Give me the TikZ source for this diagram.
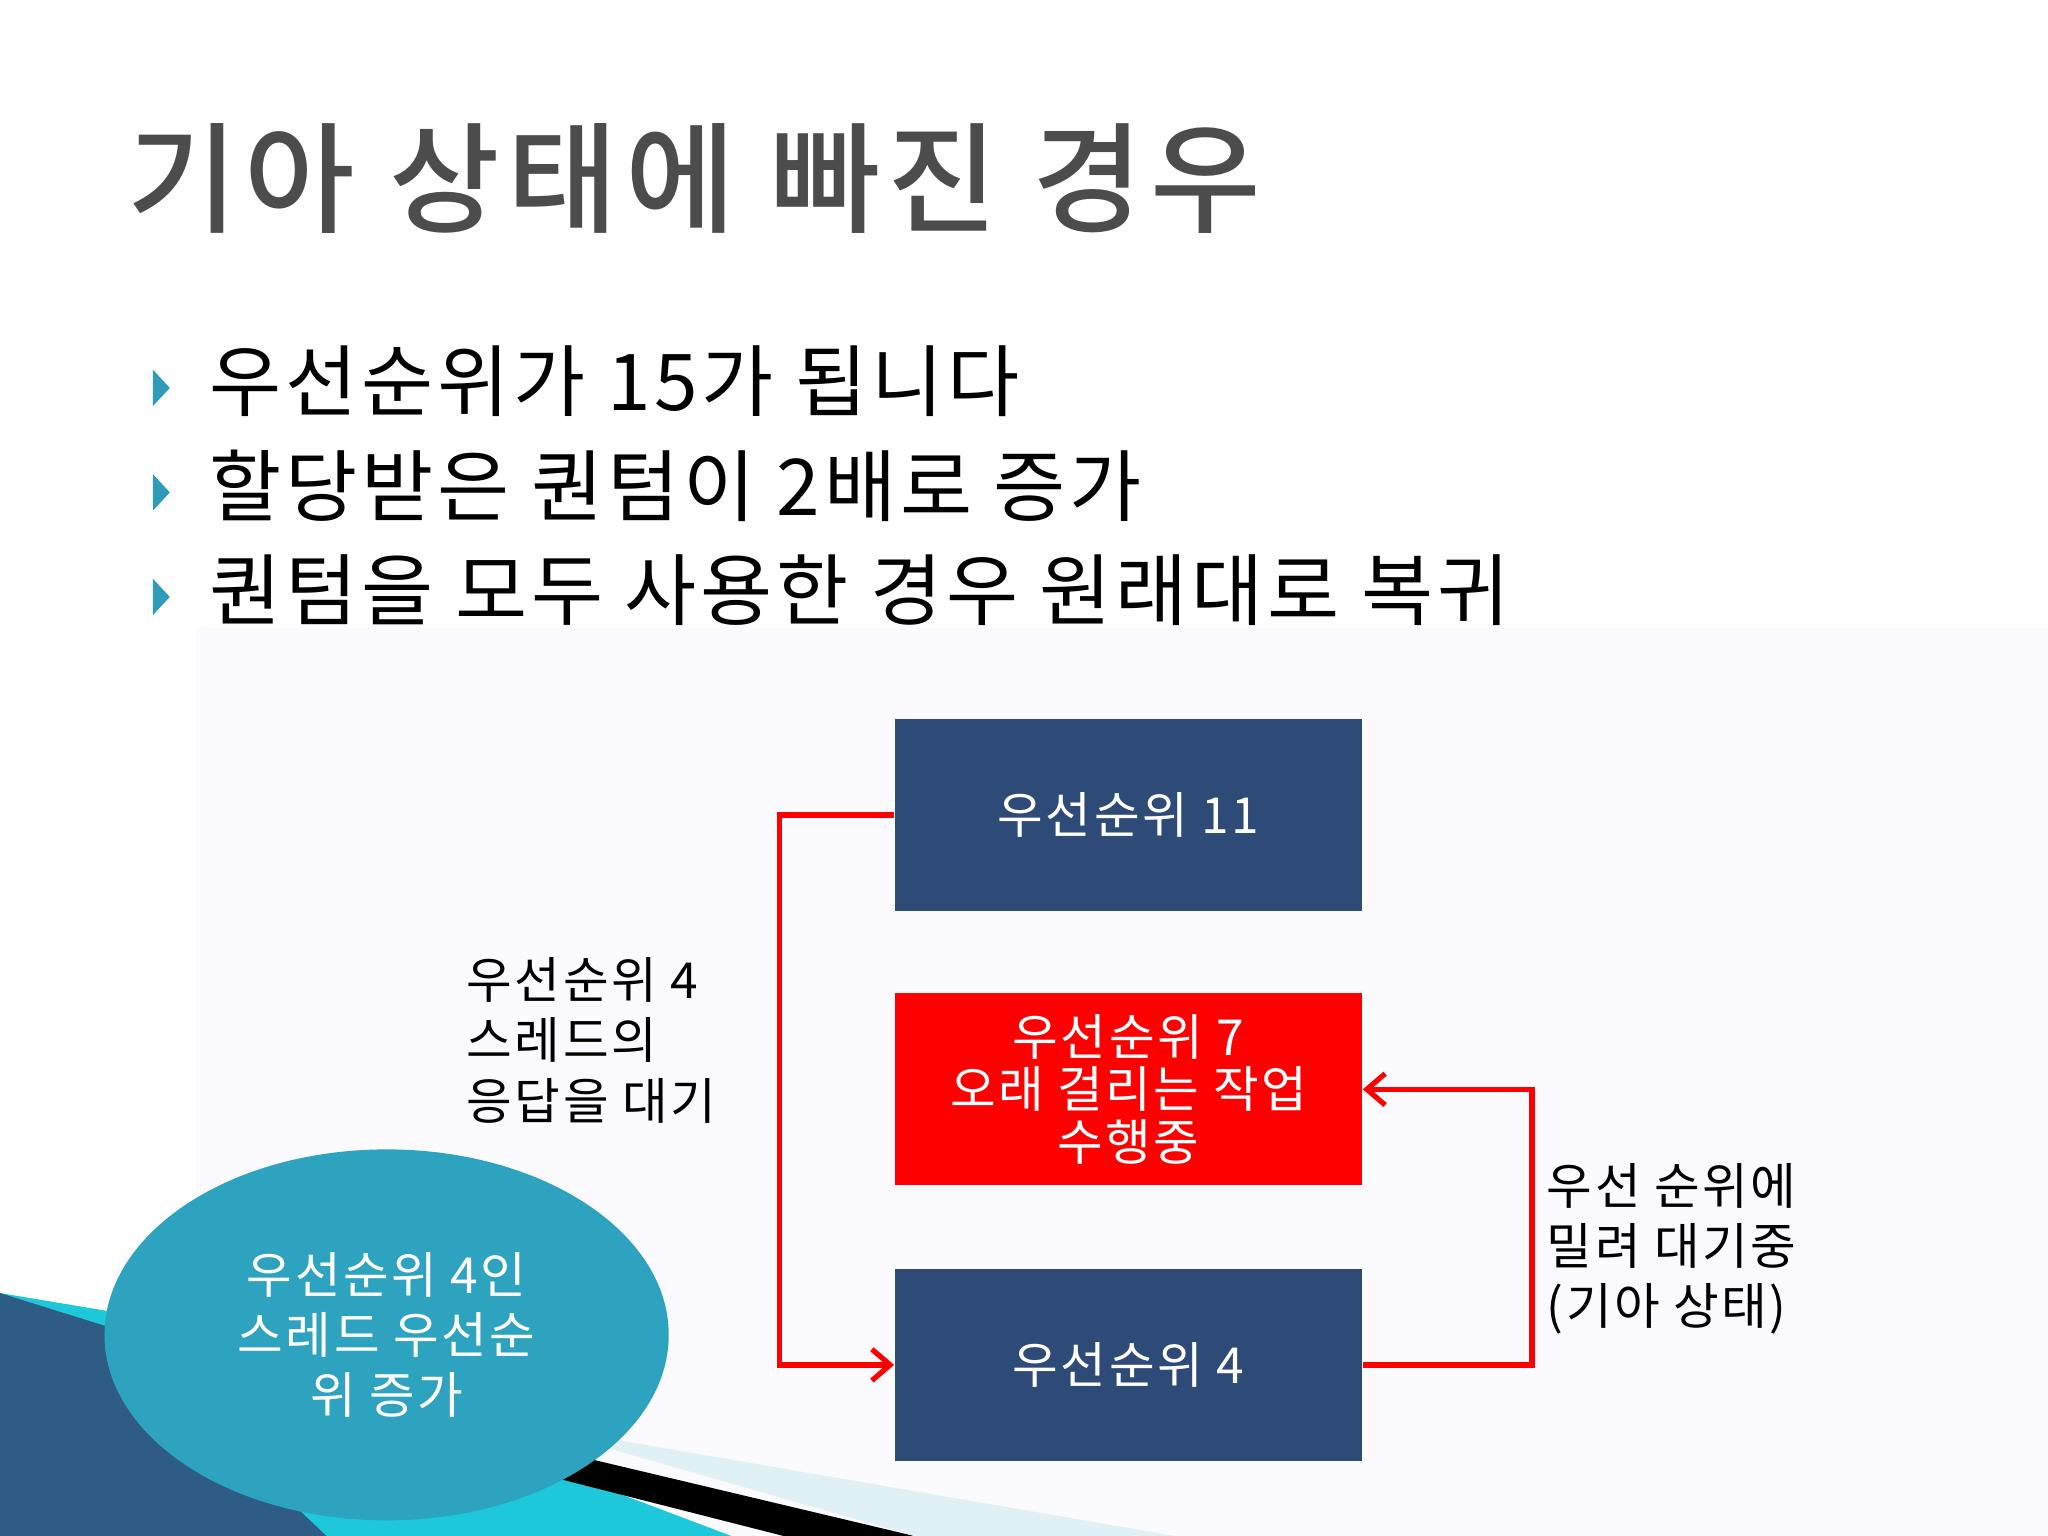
\documentclass[tikz,border=0pt]{standalone}
\usepackage{fontspec}
\setmainfont{Noto Sans CJK KR}
\newfontfamily\widefont[LetterSpace=5]{Noto Sans CJK KR}
\newfontfamily\titlefont[LetterSpace=6]{Noto Sans CJK KR Medium}
\usetikzlibrary{arrows.meta,shapes.geometric}
\definecolor{navy}{HTML}{2E4A76}
\definecolor{teal}{HTML}{2EA3C0}
\definecolor{bul}{HTML}{2E9CB8}
\tikzset{
 box/.style={draw=none,minimum width=358*0.5pt,minimum height=147*0.5pt,inner sep=0pt,align=center,text=white,font=\widefont\fontsize{19}{22}\selectfont},
 lbl/.style={align=left,anchor=north west,font=\widefont\fontsize{19}{23}\selectfont,inner sep=0pt},
 bl/.style={anchor=west,font=\widefont\fontsize{30}{34}\selectfont,inner sep=0pt},
 conn/.style={red,line width=2pt,-{Straight Barb[length=7pt,width=12pt,line width=2pt]}}
}
\begin{document}
\begin{tikzpicture}[x=0.5pt,y=-0.5pt]
\useasboundingbox (0,0) rectangle (1568,1176);
\fill[white] (0,0) rectangle (1568,1176);
% decorative background
\fill[blue!1.5] (150,480) rectangle (1568,1176);
\fill[teal!60!cyan] (0,990) -- (120,1010) -- (560,1176) -- (0,1176) -- cycle;
\fill[navy!80!teal] (0,990) -- (80,1015) -- (250,1176) -- (0,1176) -- cycle;
\fill[black] (380,1100) -- (700,1176) -- (600,1176) -- (380,1120) -- cycle;
\fill[teal!15] (400,1090) -- (900,1176) -- (700,1176) -- cycle;
% title
\node[anchor=west,text=black!70,font=\titlefont\fontsize{46}{50}\selectfont,inner sep=0pt] (t) at (97,137) {기아 상태에 빠진 경우};
% bullets
\foreach \y in {297,377,457}{
 \fill[bul] (117,\y-14) -- (130,\y) -- (117,\y+14) -- cycle;}
\node[bl] (b1) at (160,292) {우선순위가 15가 됩니다};
\node[bl] (b2) at (160,372) {할당받은 퀀텀이 2배로 증가};
\node[bl] (b3) at (160,452) {퀀텀을 모두 사용한 경우 원래대로 복귀};
% boxes
\node[box,fill=navy] (p11) at (864,624) {우선순위 11};
\node[box,fill=red] (p7) at (864,834) {우선순위 7\\[-2pt]오래 걸리는 작업\\[-2pt]수행중};
\node[box,fill=navy] (p4) at (864,1045) {우선순위 4};
\node[ellipse,fill=teal,minimum width=432*0.5pt,minimum height=284*0.5pt,inner sep=0pt,align=center,text=white,font=\widefont\fontsize{19}{23}\selectfont] (el) at (296,1022) {우선순위 4인\\스레드 우선순\\위 증가};
% labels
\node[lbl] (l1) at (357,733) {우선순위 4\\스레드의\\응답을 대기};
\node[lbl] (l2) at (1184,890) {우선 순위에\\밀려 대기중\\(기아 상태)};
% connectors
\coordinate (a1) at (597,624); \coordinate (a2) at (597,1045);
\coordinate (c1) at (1173,1045); \coordinate (c2) at (1173,834);
\draw[conn] (p11.west) -- (a1) -- (a2) -- (p4.west);
\draw[conn] (p4.east) -- (c1) -- (c2) -- (p7.east);
\end{tikzpicture}
\end{document}
